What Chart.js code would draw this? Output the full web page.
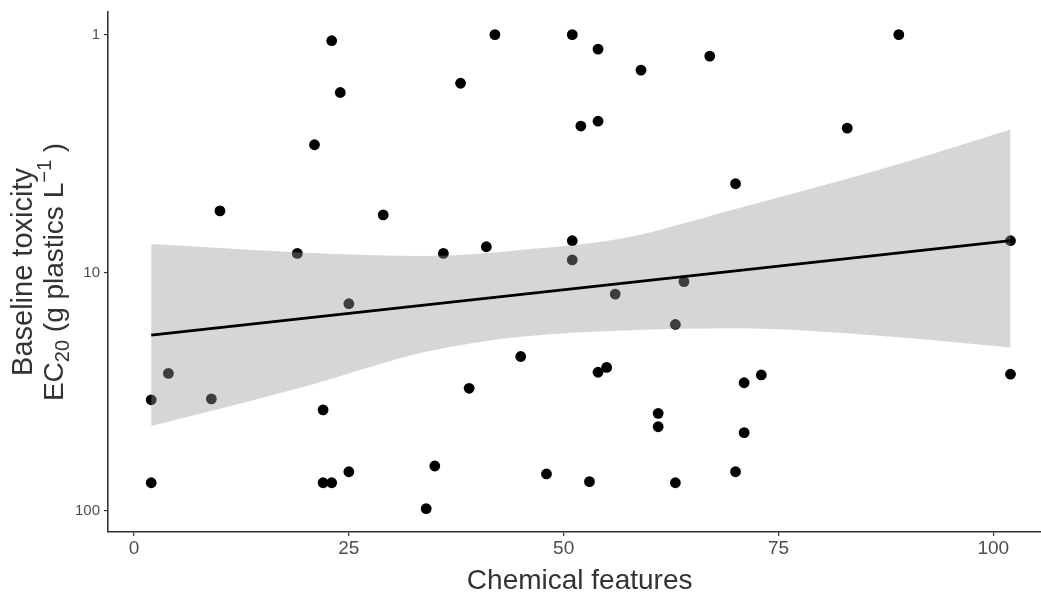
<!DOCTYPE html>
<html>
<head>
<meta charset="utf-8">
<script src="https://cdn.jsdelivr.net/npm/chart.js@4.4.1/dist/chart.umd.min.js"></script>
<style>
  html, body { margin: 0; padding: 0; background: #ffffff; }
  canvas { display: block; }
</style>
</head>
<body>
<canvas id="c" width="1041" height="592"></canvas>
<script>
// ---- data ----
const chemicalFeatures = [2, 2, 4, 9, 10, 19, 21, 22, 22, 23, 23, 24, 25, 25, 29, 34, 35, 36, 38, 39, 41, 42, 45, 48, 51, 51, 51, 52, 53, 54, 54, 54, 55, 56, 59, 61, 61, 63, 63, 64, 67, 70, 70, 71, 71, 73, 83, 89, 102, 102];
const ec20Values = [34.2, 76.3, 26.5, 33.9, 5.5, 8.3, 2.9, 37.7, 76.3, 76.3, 1.06, 1.75, 13.5, 68.6, 5.72, 98, 64.9, 8.3, 1.6, 30.6, 7.78, 1.0, 22.5, 70.1, 1.0, 7.34, 8.84, 2.42, 75.5, 1.15, 2.31, 26.2, 25.0, 12.3, 1.41, 39.0, 44.4, 16.5, 76.3, 10.9, 1.23, 4.23, 68.6, 29.0, 47.0, 26.9, 2.47, 1.0, 7.34, 26.7];

const fitX = [2, 102];
const fitY = [18.3, 7.34];

const ribbonX = [2, 20, 34, 45, 57, 70, 86, 102];
const ribbonLow = [7.58, 8.24, 8.51, 8.03, 7.15, 5.40, 3.76, 2.50];
const ribbonHigh = [44.1, 30.0, 21.5, 18.6, 17.5, 17.1, 18.3, 20.6];

const xTicks = [0, 25, 50, 75, 100];
const yTicks = [1, 10, 100];

const xTitle = 'Chemical features';
const yTitleLine1 = 'Baseline toxicity';
const yTitleLine2 = [
  { text: 'EC', script: 0 },
  { text: '20', script: -1 },
  { text: ' (g plastics L', script: 0 },
  { text: '\u22121', script: 1 },
  { text: ' )', script: 0 }
];

// ---- styling ----
const FONT = '"Liberation Sans", Arial, Helvetica, sans-serif';
const AXIS_COLOR = '#333333';
const TICK_TEXT = '#4d4d4d';
const TITLE_COLOR = '#333333';
const TITLE_SIZE = 28;

const pts = chemicalFeatures.map((x, i) => ({ x: x, y: ec20Values[i] }));
const fitPts = fitX.map((x, i) => ({ x: x, y: fitY[i] }));
const ribLowPts = ribbonX.map((x, i) => ({ x: x, y: ribbonLow[i] }));
const ribHighPts = ribbonX.map((x, i) => ({ x: x, y: ribbonHigh[i] }));

const titlesPlugin = {
  id: 'titles',
  afterDraw(chart) {
    const ctx = chart.ctx;
    const ca = chart.chartArea;
    const cy = (ca.top + ca.bottom) / 2;
    const xs = chart.scales.x;
    ctx.save();
    ctx.fillStyle = TITLE_COLOR;
    ctx.textBaseline = 'alphabetic';
    // x title
    ctx.font = TITLE_SIZE + 'px ' + FONT;
    ctx.textAlign = 'center';
    ctx.fillText(xTitle, xs.getPixelForValue(50) + 16, 589);
    ctx.restore();

    // y title line 1
    ctx.save();
    ctx.fillStyle = TITLE_COLOR;
    ctx.font = (TITLE_SIZE + 1) + 'px ' + FONT;
    ctx.textAlign = 'center';
    ctx.textBaseline = 'alphabetic';
    ctx.translate(32, cy);
    ctx.rotate(-Math.PI / 2);
    ctx.fillText(yTitleLine1, 0, 0);
    ctx.restore();

    // y title line 2 (with sub/superscript)
    ctx.save();
    ctx.fillStyle = TITLE_COLOR;
    ctx.textAlign = 'left';
    ctx.textBaseline = 'alphabetic';
    ctx.translate(63, cy);
    ctx.rotate(-Math.PI / 2);
    const scriptSize = Math.round(TITLE_SIZE * 0.72);
    let total = 0;
    const widths = yTitleLine2.map(p => {
      ctx.font = (p.script ? scriptSize : TITLE_SIZE) + 'px ' + FONT;
      const w = ctx.measureText(p.text).width;
      total += w;
      return w;
    });
    let xPos = -total / 2;
    yTitleLine2.forEach((p, i) => {
      ctx.font = (p.script ? scriptSize : TITLE_SIZE) + 'px ' + FONT;
      let dy = 0;
      if (p.script === -1) dy = TITLE_SIZE * 0.22;
      if (p.script === 1) dy = -TITLE_SIZE * 0.42;
      ctx.fillText(p.text, xPos, dy);
      xPos += widths[i];
    });
    ctx.restore();
  }
};

new Chart(document.getElementById('c'), {
  type: 'line',
  data: {
    datasets: [
      {
        label: 'points',
        data: pts,
        showLine: false,
        pointRadius: 5.4,
        pointHoverRadius: 5.4,
        pointBackgroundColor: '#000000',
        pointBorderWidth: 0,
        borderWidth: 0,
        order: 3
      },
      {
        label: 'ribbonLow',
        data: ribLowPts,
        borderWidth: 0,
        borderColor: 'rgba(0,0,0,0)',
        pointRadius: 0,
        cubicInterpolationMode: 'monotone',
        backgroundColor: 'rgba(153,153,153,0.4)',
        fill: '+1',
        order: 2
      },
      {
        label: 'ribbonHigh',
        data: ribHighPts,
        borderWidth: 0,
        borderColor: 'rgba(0,0,0,0)',
        pointRadius: 0,
        cubicInterpolationMode: 'monotone',
        fill: false,
        order: 2
      },
      {
        label: 'fit',
        data: fitPts,
        borderColor: '#000000',
        borderWidth: 2.8,
        pointRadius: 0,
        fill: false,
        order: 1
      }
    ]
  },
  options: {
    responsive: false,
    devicePixelRatio: 1,
    animation: false,
    events: [],
    layout: { autoPadding: false, padding: { top: 12, right: 0, bottom: 0, left: 0 } },
    plugins: {
      legend: { display: false },
      tooltip: { enabled: false },
      title: { display: false }
    },
    scales: {
      x: {
        type: 'linear',
        min: -3.03,
        max: 105.55,
        afterBuildTicks: (scale) => { scale.ticks = xTicks.map(v => ({ value: v })); },
        afterFit: (scale) => {
          scale.height = 60;
          scale.paddingLeft = 0;
          scale.paddingRight = 0;
        },
        ticks: {
          autoSkip: false,
          maxRotation: 0,
          color: TICK_TEXT,
          font: { family: FONT, size: 19 },
          padding: 1
        },
        grid: {
          display: true,
          drawOnChartArea: false,
          drawTicks: true,
          tickLength: 4,
          color: AXIS_COLOR,
          lineWidth: 1.2
        },
        border: { display: true, color: AXIS_COLOR, width: 1.6 }
      },
      y: {
        type: 'logarithmic',
        reverse: true,
        min: 0.803,
        max: 122.9,
        afterBuildTicks: (scale) => { scale.ticks = yTicks.map(v => ({ value: v })); },
        afterFit: (scale) => {
          scale.width = 108;
          scale.paddingTop = 0;
          scale.paddingBottom = 0;
        },
        ticks: {
          autoSkip: false,
          color: TICK_TEXT,
          font: { family: FONT, size: 15 },
          padding: 4,
          callback: (v) => String(v)
        },
        grid: {
          display: true,
          drawOnChartArea: false,
          drawTicks: true,
          tickLength: 4,
          color: AXIS_COLOR,
          lineWidth: 1.2
        },
        border: { display: true, color: AXIS_COLOR, width: 1.6 }
      }
    }
  },
  plugins: [titlesPlugin]
});
</script>
</body>
</html>
